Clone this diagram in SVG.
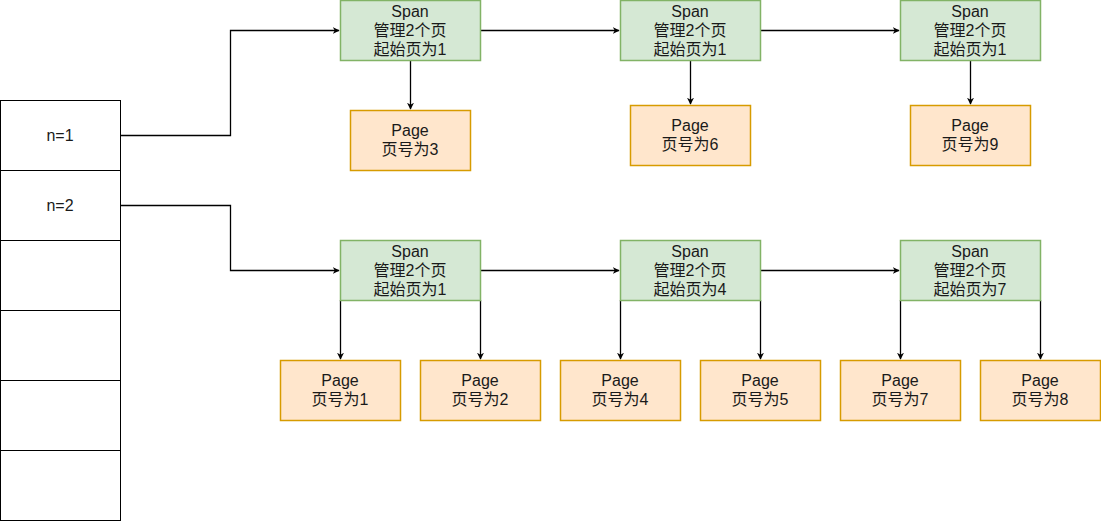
<svg xmlns="http://www.w3.org/2000/svg" width="1101" height="521" viewBox="0 0 1101 521">
<style>
text{font-family:"Liberation Sans","Noto Sans CJK SC",sans-serif;font-size:16px;fill:#1a1a1a;text-anchor:middle;dominant-baseline:central}
.cell{fill:#fff;stroke:#000;stroke-width:1}
.span{fill:#d5e8d4;stroke:#82b366;stroke-width:1.5}
.page{fill:#ffe6cc;stroke:#d79b00;stroke-width:1.5}
.c{fill:none;stroke:#000;stroke-width:1.3}
</style>
<defs>
<marker id="a" viewBox="0 0 10 10" refX="9" refY="5" markerWidth="7" markerHeight="7" markerUnits="userSpaceOnUse" orient="auto">
<path d="M0,0 L10,5 L0,10 L3,5 Z" fill="#000"/>
</marker>
</defs>
<g id="table">
<rect class="cell" x="0.5" y="100.5" width="120" height="70"/>
<rect class="cell" x="0.5" y="170.5" width="120" height="70"/>
<rect class="cell" x="0.5" y="240.5" width="120" height="70"/>
<rect class="cell" x="0.5" y="310.5" width="120" height="70"/>
<rect class="cell" x="0.5" y="380.5" width="120" height="70"/>
<rect class="cell" x="0.5" y="450.5" width="120" height="70"/>
<text x="60" y="135">n=1</text>
<text x="60" y="205">n=2</text>
</g>
<g id="connectors">
<path class="c" d="M120.5,135.5 H230.5 V30.5 H339" marker-end="url(#a)"/>
<path class="c" d="M120.5,205.5 H230.5 V270.5 H339" marker-end="url(#a)"/>
<path class="c" d="M480,30.5 H619" marker-end="url(#a)"/>
<path class="c" d="M760,30.5 H899" marker-end="url(#a)"/>
<path class="c" d="M410.5,60 V109" marker-end="url(#a)"/>
<path class="c" d="M690.5,60 V104" marker-end="url(#a)"/>
<path class="c" d="M970.5,60 V104" marker-end="url(#a)"/>
<path class="c" d="M480,270.5 H619" marker-end="url(#a)"/>
<path class="c" d="M760,270.5 H899" marker-end="url(#a)"/>
<path class="c" d="M340.5,300 V359" marker-end="url(#a)"/>
<path class="c" d="M480.5,300 V359" marker-end="url(#a)"/>
<path class="c" d="M620.5,300 V359" marker-end="url(#a)"/>
<path class="c" d="M760.5,300 V359" marker-end="url(#a)"/>
<path class="c" d="M900.5,300 V359" marker-end="url(#a)"/>
<path class="c" d="M1040.5,300 V359" marker-end="url(#a)"/>
</g>
<g id="span1"><rect class="span" x="340.5" y="0.5" width="140" height="60"/><text x="410" y="11">Span</text><text x="410" y="30">管理2个页</text><text x="410" y="49">起始页为1</text></g>
<g id="span2"><rect class="span" x="620.5" y="0.5" width="140" height="60"/><text x="690" y="11">Span</text><text x="690" y="30">管理2个页</text><text x="690" y="49">起始页为1</text></g>
<g id="span3"><rect class="span" x="900.5" y="0.5" width="140" height="60"/><text x="970" y="11">Span</text><text x="970" y="30">管理2个页</text><text x="970" y="49">起始页为1</text></g>
<g id="page3"><rect class="page" x="350.5" y="110.5" width="120" height="60"/><text x="410" y="130.5">Page</text><text x="410" y="149.5">页号为3</text></g>
<g id="page6"><rect class="page" x="630.5" y="105.5" width="120" height="60"/><text x="690" y="125.5">Page</text><text x="690" y="144.5">页号为6</text></g>
<g id="page9"><rect class="page" x="910.5" y="105.5" width="120" height="60"/><text x="970" y="125.5">Page</text><text x="970" y="144.5">页号为9</text></g>
<g id="span4"><rect class="span" x="340.5" y="240.5" width="140" height="60"/><text x="410" y="251">Span</text><text x="410" y="270">管理2个页</text><text x="410" y="289">起始页为1</text></g>
<g id="span5"><rect class="span" x="620.5" y="240.5" width="140" height="60"/><text x="690" y="251">Span</text><text x="690" y="270">管理2个页</text><text x="690" y="289">起始页为4</text></g>
<g id="span6"><rect class="span" x="900.5" y="240.5" width="140" height="60"/><text x="970" y="251">Span</text><text x="970" y="270">管理2个页</text><text x="970" y="289">起始页为7</text></g>
<g id="page1"><rect class="page" x="280.5" y="360.5" width="120" height="60"/><text x="340" y="380.5">Page</text><text x="340" y="399.5">页号为1</text></g>
<g id="page2"><rect class="page" x="420.5" y="360.5" width="120" height="60"/><text x="480" y="380.5">Page</text><text x="480" y="399.5">页号为2</text></g>
<g id="page4"><rect class="page" x="560.5" y="360.5" width="120" height="60"/><text x="620" y="380.5">Page</text><text x="620" y="399.5">页号为4</text></g>
<g id="page5"><rect class="page" x="700.5" y="360.5" width="120" height="60"/><text x="760" y="380.5">Page</text><text x="760" y="399.5">页号为5</text></g>
<g id="page7"><rect class="page" x="840.5" y="360.5" width="120" height="60"/><text x="900" y="380.5">Page</text><text x="900" y="399.5">页号为7</text></g>
<g id="page8"><rect class="page" x="980.5" y="360.5" width="120" height="60"/><text x="1040" y="380.5">Page</text><text x="1040" y="399.5">页号为8</text></g>
</svg>
